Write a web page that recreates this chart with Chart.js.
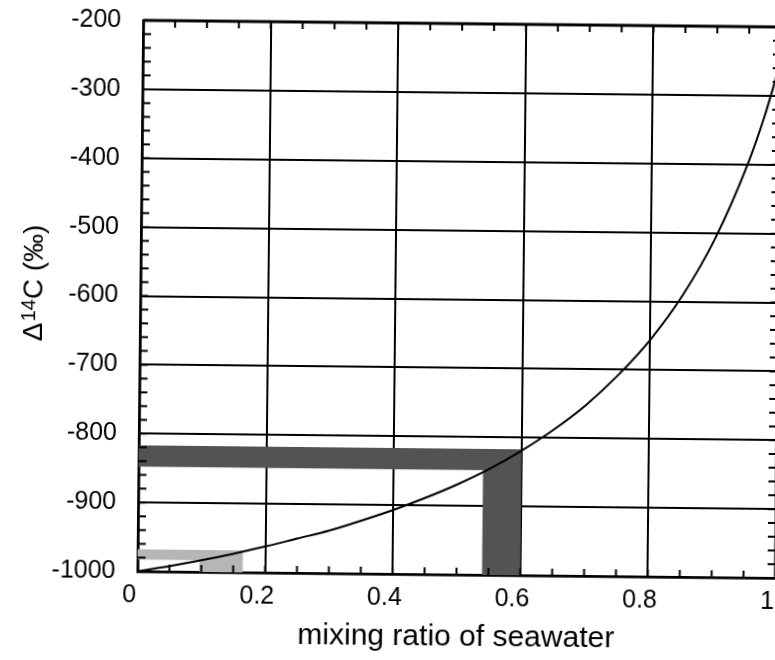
<!DOCTYPE html>
<html>
<head>
<meta charset="utf-8">
<script src="https://cdn.jsdelivr.net/npm/chart.js@4/dist/chart.umd.min.js"></script>
<style>
  html, body { margin: 0; padding: 0; background: #fff; overflow: hidden; width: 775px; height: 660px; }
  #wrap { position: absolute; left: 0; top: 0; width: 790px; height: 660px;
          transform: rotate(0.6deg); transform-origin: 395px 330px; background: #fff; }
  canvas { display: block; }
</style>
</head>
<body>
<div id="wrap"><canvas id="c" width="790" height="660"></canvas></div>
<script>
// Mixing curve: Δ14C against the fraction of seawater
const mixRatio = [0, 0.05, 0.1, 0.15, 0.2, 0.25, 0.3, 0.35, 0.4, 0.45, 0.5, 0.55,
                  0.6, 0.65, 0.7, 0.75, 0.8, 0.85, 0.9, 0.95, 0.975, 1];
const delta14C = [-1000, -992, -983, -973, -962, -950, -938, -923, -907, -889, -869, -846,
                  -819, -788, -752, -708, -656, -591, -508, -399, -331, -250];

// Shaded ranges: measured Δ14C band and the matching mixing-ratio band
const darkBandRatio  = [0.54, 0.60];
const darkBandDelta  = [-848, -817];
const lightBandRatio = [0.097, 0.165];
const lightBandDelta = [-983, -968];

// Axis ticks
const ratioTicks = [0, 0.2, 0.4, 0.6, 0.8, 1];
const deltaTicks = [-1000, -900, -800, -700, -600, -500, -400, -300, -200];
const ratioMinorStep = 0.05;
const deltaMinorStep = 20;

// L-shaped region: horizontal strip from the y axis plus a vertical strip down to the x axis
function lShape(ratio, delta, floor) {
  return [
    { x: 0, y: delta[1] }, { x: ratio[1], y: delta[1] }, { x: ratio[1], y: floor },
    { x: ratio[0], y: floor }, { x: ratio[0], y: delta[0] }, { x: 0, y: delta[0] },
    { x: 0, y: delta[1] }
  ];
}

const floor = deltaTicks[0];
const curve = mixRatio.map((r, i) => ({ x: r, y: delta14C[i] }));

Chart.defaults.font.family = "'Liberation Sans', Arial, sans-serif";
Chart.defaults.color = '#000';

// Top/right frame, inward minor ticks, and the rotated y-axis title with superscript
const frameAndTicks = {
  id: 'frameAndTicks',
  afterDraw(chart) {
    const { ctx, chartArea: a, scales: { x, y } } = chart;
    ctx.save();
    ctx.strokeStyle = '#000';
    ctx.lineWidth = 2.8;
    ctx.beginPath();
    ctx.moveTo(a.left, a.top); ctx.lineTo(a.right, a.top); ctx.lineTo(a.right, a.bottom);
    ctx.stroke();

    ctx.lineWidth = 2;
    ctx.beginPath();
    const nx = Math.round((x.max - x.min) / ratioMinorStep);
    for (let i = 0; i <= nx; i++) {
      const px = x.getPixelForValue(x.min + i * ratioMinorStep);
      ctx.moveTo(px, a.bottom); ctx.lineTo(px, a.bottom - 7);
      ctx.moveTo(px, a.top); ctx.lineTo(px, a.top + 7);
    }
    const ny = Math.round((y.max - y.min) / deltaMinorStep);
    for (let i = 0; i <= ny; i++) {
      const py = y.getPixelForValue(y.min + i * deltaMinorStep);
      ctx.moveTo(a.left, py); ctx.lineTo(a.left + 8, py);
      ctx.moveTo(a.right, py); ctx.lineTo(a.right - 8, py);
    }
    ctx.stroke();

    // y-axis title: Δ14C (‰), read bottom to top
    ctx.translate(42, 345);
    ctx.rotate(-Math.PI / 2);
    ctx.fillStyle = '#000';
    ctx.textBaseline = 'alphabetic';
    ctx.textAlign = 'left';
    const big = "28px 'Liberation Sans', Arial, sans-serif";
    const small = "20px 'Liberation Sans', Arial, sans-serif";
    let cx = 0;
    ctx.font = big;
    ctx.fillText('Δ', cx, 0);
    cx += ctx.measureText('Δ').width + 1;
    ctx.font = small;
    ctx.fillText('14', cx, -7);
    cx += ctx.measureText('14').width;
    ctx.font = big;
    ctx.fillText('C (‰)', cx, 0);
    ctx.restore();
  }
};

new Chart(document.getElementById('c'), {
  type: 'scatter',
  data: {
    datasets: [
      {
        data: curve, showLine: true, borderColor: '#000', borderWidth: 2,
        pointRadius: 0, cubicInterpolationMode: 'monotone', fill: false, order: 0
      },
      {
        data: lShape(darkBandRatio, darkBandDelta, floor), showLine: true,
        borderWidth: 0, pointRadius: 0, fill: 'shape', backgroundColor: '#535353', order: 1
      },
      {
        data: lShape(lightBandRatio, lightBandDelta, floor), showLine: true,
        borderWidth: 0, pointRadius: 0, fill: 'shape', backgroundColor: '#b6b6b6', order: 2
      }
    ]
  },
  options: {
    responsive: false,
    animation: false,
    devicePixelRatio: 1,
    layout: { padding: { left: 0, top: 23, right: 12, bottom: 0 } },
    plugins: { legend: { display: false }, tooltip: { enabled: false } },
    scales: {
      x: {
        type: 'linear', min: 0, max: 1, z: 1,
        afterBuildTicks: s => { s.ticks = ratioTicks.map(v => ({ value: v })); },
        afterFit: s => { s.height = 86; s.paddingLeft = 0; s.paddingRight = 0; },
        grid: { color: '#000', lineWidth: 2, drawTicks: false },
        border: { display: true, color: '#000', width: 2.8 },
        ticks: { font: { size: 25 }, padding: 9, labelOffset: -8, maxRotation: 0,
                 callback: v => String(v) },
        title: { display: true, text: 'mixing ratio of seawater', font: { size: 30 },
                 padding: { top: 0, bottom: 5 } }
      },
      y: {
        type: 'linear', min: -1000, max: -200, z: 1,
        afterBuildTicks: s => { s.ticks = deltaTicks.map(v => ({ value: v })); },
        afterFit: s => { s.width = 140; s.paddingTop = 0; s.paddingBottom = 0; },
        grid: { color: '#000', lineWidth: 2, drawTicks: false },
        border: { display: true, color: '#000', width: 2.8 },
        ticks: { font: { size: 25 }, padding: 22, callback: v => String(v) }
      }
    }
  },
  plugins: [frameAndTicks]
});
</script>
</body>
</html>
